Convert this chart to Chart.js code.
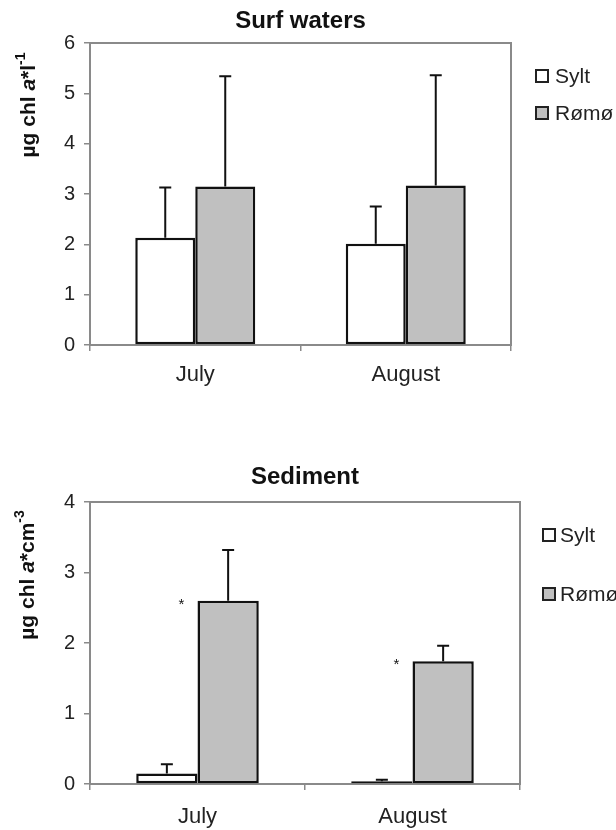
<!DOCTYPE html>
<html>
<head>
<meta charset="utf-8">
<script src="https://cdn.jsdelivr.net/npm/chart.js@4.4.0/dist/chart.umd.min.js"></script>
<style>
  body { margin: 0; background: #fff; font-family: "Liberation Sans", Arial, sans-serif; }
  .panel { position: absolute; left: 0; }
  .lg-box { position: absolute; width: 10px; height: 10px; border: 2px solid #222; }
  .lg-text { position: absolute; font-size: 21px; line-height: 20px; color: #222; white-space: nowrap; }
</style>
</head>
<body>
<canvas id="surf" class="panel" style="top:0" width="616" height="440"></canvas>
<canvas id="sed" class="panel" style="top:440px" width="616" height="390"></canvas>
<div id="legends"></div>
<script>
const months = ['July', 'August'];
const seriesNames = ['Sylt', 'Rømø'];
const seriesFill = ['#ffffff', '#c0c0c0'];

// surf waters, µg chl a per litre (mean and upper SD)
const surfSylt = [2.13, 2.01];
const surfSyltSd = [1.00, 0.74];
const surfRomo = [3.15, 3.17];
const surfRomoSd = [2.19, 2.19];
const surfTicks = [0, 1, 2, 3, 4, 5, 6];

// sediment, µg chl a per cm3
const sedSylt = [0.15, 0.04];
const sedSyltSd = [0.13, 0.02];
const sedRomo = [2.60, 1.74];
const sedRomoSd = [0.72, 0.22];
const sedStars = ['*', '*'];
const sedTicks = [0, 1, 2, 3, 4];

const FONT = '"Liberation Sans", Arial, sans-serif';

// gray box round the plot area
const frame = {
  id: 'frame',
  beforeDatasetsDraw(chart) {
    const a = chart.chartArea, c = chart.ctx;
    c.save();
    c.strokeStyle = '#8a8a8a';
    c.lineWidth = 2;
    c.strokeRect(a.left, a.top, a.right - a.left, a.bottom - a.top);
    c.restore();
  }
};

// upper error bars + significance stars
const errorBars = {
  id: 'errorBars',
  afterDatasetsDraw(chart) {
    const c = chart.ctx, y = chart.scales.y;
    chart.data.datasets.forEach((ds, i) => {
      chart.getDatasetMeta(i).data.forEach((bar, j) => {
        const top = y.getPixelForValue(ds.data[j] + ds.errors[j]);
        c.save();
        c.strokeStyle = '#111';
        c.lineWidth = 2;
        c.beginPath();
        c.moveTo(bar.x, bar.y);
        c.lineTo(bar.x, top);
        c.moveTo(bar.x - 6, top);
        c.lineTo(bar.x + 6, top);
        c.stroke();
        if (ds.stars && ds.stars[j]) {
          c.fillStyle = '#111';
          c.font = '15px ' + FONT;
          c.textAlign = 'center';
          c.fillText(ds.stars[j], bar.x - bar.width / 2 - 16, bar.y + 8);
        }
        c.restore();
      });
    });
  }
};

// rotated y title with italic a and superscript unit
const yTitle = {
  id: 'yTitle',
  afterDraw(chart, args, opts) {
    const c = chart.ctx;
    const fontOf = p => p.sup ? 'bold 14px ' + FONT : (p.italic ? 'italic bold 21px ' : 'bold 21px ') + FONT;
    c.save();
    c.translate(opts.x, opts.y);
    c.rotate(-Math.PI / 2);
    c.fillStyle = '#111';
    c.textBaseline = 'alphabetic';
    let w = 0;
    opts.parts.forEach(p => { c.font = fontOf(p); w += c.measureText(p.text).width; });
    let x = -w / 2;
    opts.parts.forEach(p => {
      c.font = fontOf(p);
      c.fillText(p.text, x, p.sup ? -10 : 0);
      x += c.measureText(p.text).width;
    });
    c.restore();
  }
};

function makeChart(id, o) {
  const barStyle = { borderColor: '#111', borderWidth: 2.5, borderSkipped: false,
    categoryPercentage: 0.57, barPercentage: 1.0 };
  return new Chart(document.getElementById(id), {
    type: 'bar',
    data: {
      labels: months,
      datasets: [
        Object.assign({ label: seriesNames[0], data: o.sylt, errors: o.syltSd,
          backgroundColor: seriesFill[0] }, barStyle),
        Object.assign({ label: seriesNames[1], data: o.romo, errors: o.romoSd, stars: o.stars,
          backgroundColor: seriesFill[1] }, barStyle)
      ]
    },
    options: {
      responsive: false,
      animation: false,
      layout: { padding: { left: 0, right: o.right, top: 0, bottom: 0 } },
      plugins: {
        legend: { display: false },
        tooltip: { enabled: false },
        title: {
          display: true, text: o.title, fullSize: false, color: '#111',
          font: { family: FONT, size: 24, weight: 'bold' },
          padding: { top: o.titleTop, bottom: o.titleBottom }
        },
        yTitle: { parts: o.yParts, x: o.yTitleX, y: o.yTitleY }
      },
      scales: {
        x: {
          border: { display: false },
          grid: { drawOnChartArea: false, tickLength: 6, color: '#8a8a8a', lineWidth: 1.5 },
          ticks: { color: '#222', padding: o.xPad, font: { family: FONT, size: 22 } },
          afterFit: s => { s.height = o.xHeight; }
        },
        y: {
          min: 0, max: o.max,
          border: { display: false },
          grid: { drawOnChartArea: false, tickLength: 6, color: '#8a8a8a', lineWidth: 1.5 },
          ticks: { color: '#222', padding: 9, font: { family: FONT, size: 20 } },
          afterBuildTicks: s => { s.ticks = o.ticks.map(v => ({ value: v })); },
          afterFit: s => { s.width = 90; }
        }
      }
    },
    plugins: [frame, errorBars, yTitle]
  });
}

makeChart('surf', {
  title: 'Surf waters', sylt: surfSylt, syltSd: surfSyltSd, romo: surfRomo, romoSd: surfRomoSd,
  max: 6, ticks: surfTicks, right: 105, xHeight: 95, xPad: 11,
  titleTop: 6.5, titleBottom: 7.7,
  yParts: [{ text: 'µg chl ' }, { text: 'a', italic: true }, { text: '*l' }, { text: '-1', sup: true }],
  yTitleX: 35, yTitleY: 105
});

makeChart('sed', {
  title: 'Sediment', sylt: sedSylt, syltSd: sedSyltSd, romo: sedRomo, romoSd: sedRomoSd, stars: sedStars,
  max: 4, ticks: sedTicks, right: 96, xHeight: 46, xPad: 14,
  titleTop: 23, titleBottom: 10.2,
  yParts: [{ text: 'µg chl ' }, { text: 'a', italic: true }, { text: '*cm' }, { text: '-3', sup: true }],
  yTitleX: 34, yTitleY: 135
});

// legends at the right of each panel
const legendSpots = [
  { boxX: 535, textX: 555, rows: [76, 113] },
  { boxX: 542, textX: 560, rows: [535, 594] }
];
const lg = document.getElementById('legends');
legendSpots.forEach(spot => {
  seriesNames.forEach((name, k) => {
    const box = document.createElement('div');
    box.className = 'lg-box';
    box.style.left = spot.boxX + 'px';
    box.style.top = (spot.rows[k] - 7) + 'px';
    box.style.background = seriesFill[k];
    lg.appendChild(box);
    const t = document.createElement('div');
    t.className = 'lg-text';
    t.style.left = spot.textX + 'px';
    t.style.top = (spot.rows[k] - 10) + 'px';
    t.textContent = name;
    lg.appendChild(t);
  });
});
</script>
</body>
</html>
